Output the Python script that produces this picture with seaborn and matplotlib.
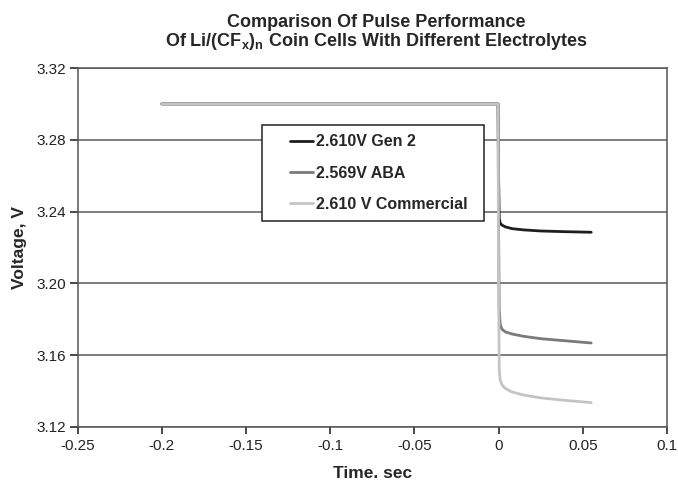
import matplotlib
matplotlib.use("Agg")
import matplotlib.pyplot as plt
import seaborn as sns
import pandas as pd
from matplotlib.ticker import FuncFormatter, FixedLocator
from matplotlib.patches import Rectangle

sns.set_theme(style="white")
plt.rcParams['font.family'] = ['Liberation Sans', 'DejaVu Sans']
plt.rcParams['mathtext.fontset'] = 'custom'
plt.rcParams['mathtext.rm'] = 'Liberation Sans:bold'
plt.rcParams['mathtext.it'] = 'Liberation Sans:bold'
plt.rcParams['mathtext.bf'] = 'Liberation Sans:bold'

time_s = [-0.2, -0.0003, 0.0, 0.0004, 0.001, 0.002, 0.004, 0.008, 0.015, 0.025, 0.04, 0.055]
gen2 = [3.300, 3.300, 3.260, 3.236, 3.2335, 3.2325, 3.2315, 3.2305, 3.2298, 3.2292, 3.2288, 3.2285]
aba = [3.300, 3.300, 3.230, 3.185, 3.177, 3.1745, 3.1730, 3.1718, 3.1705, 3.1692, 3.1680, 3.1668]
commercial = [3.300, 3.300, 3.200, 3.152, 3.146, 3.1435, 3.1415, 3.1395, 3.1378, 3.1362, 3.1348, 3.1336]
labels = ["2.610V Gen 2", "2.569V ABA", "2.610 V Commercial"]
colors = ["#1e1e1e", "#7a7a7a", "#c4c4c4"]
xticks = [-0.25, -0.2, -0.15, -0.1, -0.05, 0, 0.05, 0.1]
yticks = [3.12, 3.16, 3.20, 3.24, 3.28, 3.32]

rows = []
for lab, vals in zip(labels, [gen2, aba, commercial]):
    for t, v in zip(time_s, vals):
        rows.append({"Time": t, "Voltage": v, "Series": lab})
df = pd.DataFrame(rows)

W, H = 678, 483
L, R, T, B = 77.5, 667, 68, 427
fig = plt.figure(figsize=(W / 100, H / 100), dpi=100)
ax = fig.add_axes([L / W, (H - B) / H, (R - L) / W, (B - T) / H])

sns.lineplot(data=df, x="Time", y="Voltage", hue="Series", hue_order=labels,
             palette=colors, linewidth=2.0, ax=ax, estimator=None, sort=False)

ax.set_xlim(-0.25, 0.1)
ax.set_ylim(3.12, 3.32)
ax.xaxis.set_major_locator(FixedLocator(xticks))
ax.yaxis.set_major_locator(FixedLocator(yticks))
ax.xaxis.set_major_formatter(FuncFormatter(lambda v, p: f"{v:g}"))
ax.yaxis.set_major_formatter(FuncFormatter(lambda v, p: f"{v:.2f}"))
ax.grid(axis="y", color="#5a5a5a", linewidth=1.1)
ax.grid(axis="x", visible=False)
ax.set_axisbelow(True)
for s in ax.spines.values():
    s.set_color("#555555")
    s.set_linewidth(1.1)
ax.tick_params(axis="x", direction="out", length=5, color="#333333", labelsize=11,
               labelcolor="#222222", pad=4, bottom=True)
ax.tick_params(axis="y", direction="out", length=6, color="#333333", labelsize=11,
               labelcolor="#222222", pad=2, left=True)

ax.set_xlabel("Time. sec", fontsize=12.5, fontweight="bold", labelpad=9)
ax.set_ylabel("Voltage, V", fontsize=12.5, fontweight="bold", labelpad=7)

fig.text(376 / W, 1 - 27 / H, "Comparison Of Pulse Performance", ha="center", va="baseline",
         fontsize=13, fontweight="bold")
fig.text(376 / W, 1 - 46 / H, r"Of Li/(CF$_x$)$_n$ Coin Cells With Different Electrolytes",
         ha="center", va="baseline", fontsize=13, fontweight="bold")

# legend box
bx0, bx1, by0, by1 = 262, 484, 125, 221
ax.add_patch(Rectangle(((bx0 - L) / (R - L), (B - by1) / (B - T)),
                       (bx1 - bx0) / (R - L), (by1 - by0) / (B - T),
                       transform=ax.transAxes, facecolor="white", edgecolor="#222222",
                       linewidth=1.1, zorder=5))
leg = ax.legend(loc="center left", bbox_to_anchor=((290 - L) / (R - L), (B - 173) / (B - T)),
                frameon=False, prop={"weight": "bold", "size": 11.5}, handlelength=1.45,
                labelspacing=1.02, borderpad=0, handletextpad=0.2, borderaxespad=0)
leg.set_zorder(6)
for h in leg.get_lines():
    h.set_linewidth(2.0)

fig.savefig("out.png", dpi=100)
